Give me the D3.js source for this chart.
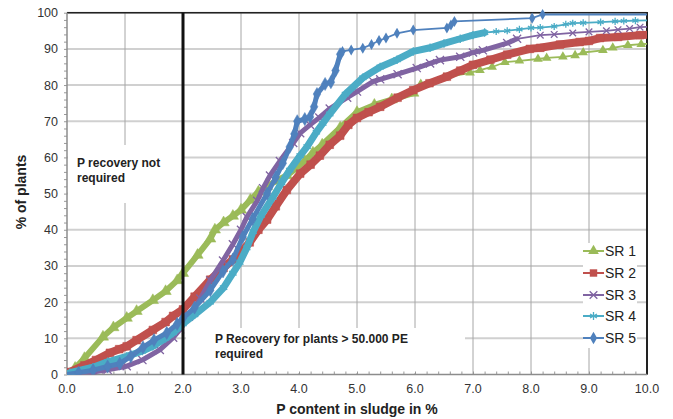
<!DOCTYPE html>
<html>
<head>
<meta charset="utf-8">
<script src="https://cdn.jsdelivr.net/npm/d3@7"></script>
<style>
body { margin: 0; background: #fff; font-family: "Liberation Sans", Arial, sans-serif; }
</style>
</head>
<body>
<div id="chart"></div>
<script>
// values: [P content %, % of plants]
var seriesNames = ["SR 1", "SR 2", "SR 3", "SR 4", "SR 5"];

var sr1Dense = [[0,0],[0.14,1.8],[0.3,4.5],[0.62,10.4],[0.8,13],[1.03,15.6],[1.2,17.5],[1.48,20.5],[1.7,23],[1.9,26],[2.0,28],[2.25,33],[2.47,37.5],[2.55,40],[2.7,42],[2.86,43.8],[3.0,45.5],[3.16,48.2],[3.3,50.5],[3.45,52],[3.6,53.5],[3.79,55],[3.95,57],[4.1,59],[4.24,61.3],[4.4,63.5],[4.71,68.2],[5.0,72.5],[5.3,74.5],[5.6,76],[5.97,77.8]];
var sr1Sparse = [[6.1,80.3],[6.5,82],[6.95,83.4],[7.12,84.1],[7.33,85],[7.55,86.3],[7.8,86.7],[8.12,87.2],[8.27,87.5],[8.55,87.8],[8.76,88.2],[8.9,89],[9.24,89.6],[9.41,90.3],[9.67,91],[9.9,91.3],[10.3,91.6]];

var sr2Dense = [[0,0],[0.05,0.7],[0.3,2.5],[0.5,4],[0.74,6],[0.9,7],[1.03,7.8],[1.2,9.5],[1.48,12.3],[1.7,14.5],[1.83,16.2],[2.0,18],[2.2,21.5],[2.47,26.2],[2.7,29.5],[2.86,31.8],[3.0,34],[3.15,36.5],[3.3,40],[3.45,42.8],[3.6,46.5],[3.79,51],[4.02,55.5],[4.2,58],[4.36,60.5],[4.53,63.5],[4.71,66],[4.85,69],[5.0,70.9],[5.2,72.5],[5.4,74],[5.7,76.5],[5.97,78.6],[6.25,80.5],[6.55,82.3],[6.78,84],[7.0,85.6],[7.3,87],[7.59,88.4],[7.98,90],[8.16,90.3],[8.5,91.2],[8.84,91.9],[9.0,92.2],[9.19,93],[9.5,93.3],[9.88,93.8],[10.3,94.1]];
var sr2Sparse = [];

var sr3Dense = [[0,0],[0.2,0.3],[0.45,0.7],[0.7,1.3],[1.03,2.3],[1.3,4],[1.6,6.8],[1.83,10.2],[1.95,12.5],[2.1,16],[2.3,21],[2.47,26],[2.69,31.5],[2.86,36],[3.0,40],[3.1,43.5],[3.28,48],[3.38,51.5],[3.5,55],[3.67,59],[3.9,64],[4.02,66.7],[4.19,69],[4.35,71],[4.53,73.5],[4.83,76.5],[5.0,78.2],[5.28,81],[5.4,81.6],[5.7,83],[6.03,84.7],[6.26,86],[6.43,86.9],[6.78,87.8],[7.0,89],[7.17,89.6],[7.59,91.6],[7.76,92.8]];
var sr3Sparse = [[8.16,93.8],[8.4,94],[8.72,94.4],[9.0,94.7],[9.3,95],[9.5,95.3],[9.7,95.6],[9.88,96],[10.3,96.3]];

var sr4Dense = [[0,0],[0.05,0.5],[0.45,2],[0.7,3.5],[1.03,5],[1.3,6.5],[1.48,7.8],[1.7,10],[1.83,11.5],[2.0,14],[2.2,16.5],[2.47,20],[2.7,24],[2.86,28],[2.98,31],[3.1,35],[3.21,39.5],[3.35,44],[3.55,49],[3.7,53],[3.84,56.5],[4.02,60.5],[4.14,63],[4.3,67],[4.41,69.4],[4.53,72],[4.8,77.5],[5.1,82],[5.4,85],[5.69,87],[5.97,89.3],[6.26,90.3],[6.5,91.5],[6.78,92.8],[7.0,93.8],[7.2,94.5]];
var sr4Sparse = [[7.4,94.8],[7.59,95],[7.8,95.4],[8.0,95.8],[8.16,95.9],[8.4,96.2],[8.6,96.8],[8.72,97.1],[8.9,97.2],[9.2,97.4],[9.45,97.6],[9.6,97.7],[9.8,97.8],[10.3,98]];

var sr5Dense = [[0,0],[0.2,0.5],[0.45,1.2],[0.7,2.2],[0.91,3],[1.1,5],[1.31,7.5],[1.5,9.5],[1.72,11.5],[1.9,14],[2.0,15.6],[2.2,18.5],[2.47,23.3],[2.69,28.5],[2.86,31.8],[3.03,38],[3.2,43],[3.45,50],[3.6,54.5],[3.72,58.4],[3.84,62.9],[3.92,66.5],[3.97,70],[4.1,70.6],[4.19,71.2],[4.26,74],[4.31,77.5],[4.45,80.3],[4.55,80.8],[4.63,84],[4.71,88.5]];
var sr5Sparse = [[4.75,89.3],[4.9,89.7],[5.1,90.2],[5.25,91.2],[5.38,92.3],[5.5,93],[5.69,94.3],[5.97,95.2],[6.55,95.8],[6.62,96.6],[6.68,97.6],[8.02,98.5],[8.2,99.5],[10.3,99.5]];

var xTicks = [0,1,2,3,4,5,6,7,8,9,10];
var yTicks = [0,10,20,30,40,50,60,70,80,90,100];

var colors = ["#9BBB59", "#C0504D", "#8064A2", "#4BACC6", "#4F81BD"];
var bandWidths = [6, 8, 5, 7, 5];
var symbols = [d3.symbolTriangle, d3.symbolSquare, d3.symbolX, d3.symbolAsterisk, d3.symbolDiamond];
var symbolSizes = [40, 45, 30, 35, 35];
var denseParts = [sr1Dense, sr2Dense, sr3Dense, sr4Dense, sr5Dense];
var sparseParts = [sr1Sparse, sr2Sparse, sr3Sparse, sr4Sparse, sr5Sparse];

var width = 673, height = 419;
var plotL = 67, plotR = 647, plotT = 12.7, plotB = 374.5;

var x = d3.scaleLinear().domain([0, 10]).range([plotL, plotR]);
var y = d3.scaleLinear().domain([0, 100]).range([plotB, plotT]);

var svg = d3.select("#chart").append("svg")
    .attr("width", width)
    .attr("height", height);

// grid
svg.append("g").selectAll("line").data(yTicks.slice(1)).enter().append("line")
    .attr("x1", plotL).attr("x2", plotR)
    .attr("y1", d => y(d)).attr("y2", d => y(d))
    .attr("stroke", "#d0d0d0").attr("stroke-width", 2);
svg.append("g").selectAll("line").data(xTicks.slice(1)).enter().append("line")
    .attr("x1", d => x(d)).attr("x2", d => x(d))
    .attr("y1", plotT).attr("y2", plotB)
    .attr("stroke", "#a6a6a6").attr("stroke-width", 1);

// white text boxes hiding the grid
svg.append("rect").attr("x", plotL + 1).attr("y", 145).attr("width", 115).attr("height", 58).attr("fill", "#fff");
svg.append("rect").attr("x", 186).attr("y", 328).attr("width", 279).attr("height", 45).attr("fill", "#fff");
svg.append("rect").attr("x", 583).attr("y", 243).attr("width", 54).attr("height", 105).attr("fill", "#fff");

// minor ticks
var xAxis = d3.axisBottom(x).tickValues(d3.range(0, 10.01, 0.2)).tickSize(-3).tickFormat("");
var gx = svg.append("g").attr("transform", `translate(0,${plotB})`).call(xAxis);
gx.selectAll("line").attr("stroke", "#999");
gx.select(".domain").remove();

var yAxis = d3.axisLeft(y).tickValues(d3.range(0, 100.1, 2)).tickSize(3).tickFormat("");
var gy = svg.append("g").attr("transform", `translate(${plotL},0)`).call(yAxis);
gy.selectAll("line").attr("stroke", "#999");
gy.select(".domain").remove();

// frame
svg.append("line").attr("x1", plotL).attr("x2", plotR + 1).attr("y1", plotT).attr("y2", plotT).attr("stroke", "#222").attr("stroke-width", 1.5);
svg.append("line").attr("x1", plotR).attr("x2", plotR).attr("y1", plotT).attr("y2", plotB).attr("stroke", "#222").attr("stroke-width", 2);
svg.append("line").attr("x1", plotL).attr("x2", plotL).attr("y1", plotT).attr("y2", plotB).attr("stroke", "#8c8c8c").attr("stroke-width", 1.5);
svg.append("line").attr("x1", plotL).attr("x2", plotR).attr("y1", plotB).attr("y2", plotB).attr("stroke", "#8c8c8c").attr("stroke-width", 1.5);

// tick labels
svg.append("g").selectAll("text").data(xTicks).enter().append("text")
    .attr("x", d => x(d)).attr("y", 393)
    .attr("text-anchor", "middle").attr("font-size", 12.5).attr("fill", "#333")
    .text(d => d.toFixed(1));
svg.append("g").selectAll("text").data(yTicks).enter().append("text")
    .attr("x", 58).attr("y", d => y(d) + 4.5)
    .attr("text-anchor", "end").attr("font-size", 12.5).attr("fill", "#333")
    .text(d => d);

// axis titles
svg.append("text").attr("x", 357).attr("y", 414).attr("text-anchor", "middle")
    .attr("font-size", 14).attr("font-weight", "bold").attr("fill", "#222")
    .text("P content in sludge in %");
svg.append("text").attr("transform", "translate(26,192) rotate(-90)").attr("text-anchor", "middle")
    .attr("font-size", 14).attr("font-weight", "bold").attr("fill", "#222")
    .text("% of plants");

// annotations
svg.append("text").attr("x", 77).attr("y", 167).attr("font-size", 12).attr("font-weight", "bold").attr("fill", "#222").text("P recovery not");
svg.append("text").attr("x", 77).attr("y", 182).attr("font-size", 12).attr("font-weight", "bold").attr("fill", "#222").text("required");
svg.append("text").attr("x", 215).attr("y", 343).attr("font-size", 12).attr("font-weight", "bold").attr("fill", "#222").text("P Recovery for plants > 50.000 PE");
svg.append("text").attr("x", 215).attr("y", 358).attr("font-size", 12).attr("font-weight", "bold").attr("fill", "#222").text("required");

// series
svg.append("clipPath").attr("id", "plot").append("rect")
    .attr("x", plotL).attr("y", plotT - 4).attr("width", plotR - plotL).attr("height", plotB - plotT + 4);
var plot = svg.append("g").attr("clip-path", "url(#plot)");
var line = d3.line().x(d => x(d[0])).y(d => y(d[1]));

seriesNames.forEach(function (name, i) {
    var dense = denseParts[i];
    var sparse = sparseParts[i];
    var all = dense.concat(sparse);
    var isStroke = i == 2 || i == 3;
    var g = plot.append("g");
    g.append("path").attr("d", line(all)).attr("fill", "none")
        .attr("stroke", colors[i]).attr("stroke-width", 1.8);
    g.append("path").attr("d", line(dense)).attr("fill", "none")
        .attr("stroke", colors[i]).attr("stroke-width", bandWidths[i])
        .attr("stroke-linejoin", "round").attr("stroke-linecap", "round");
    // markers along the dense band give it the ragged edge
    g.selectAll(".d").data(dense.slice(1)).enter().append("path")
        .attr("transform", d => `translate(${x(d[0])},${y(d[1])})`)
        .attr("d", d3.symbol().type(symbols[i]).size(symbolSizes[i] + 15))
        .attr("fill", isStroke ? "none" : colors[i])
        .attr("stroke", colors[i])
        .attr("stroke-width", isStroke ? 1.3 : 0.5);
    g.selectAll(".m").data(sparse).enter().append("path")
        .attr("transform", d => `translate(${x(d[0])},${y(d[1])})`)
        .attr("d", d3.symbol().type(symbols[i]).size(symbolSizes[i]))
        .attr("fill", isStroke ? "none" : colors[i])
        .attr("stroke", isStroke ? colors[i] : "none")
        .attr("stroke-width", 1.3);
});

// 2.0 % limit
svg.append("line").attr("x1", x(2)).attr("x2", x(2)).attr("y1", y(100)).attr("y2", y(0))
    .attr("stroke", "#111").attr("stroke-width", 3);

// legend
var legend = svg.append("g");
var legendY = [251, 273, 295, 316, 338];
seriesNames.forEach(function (name, i) {
    var ly = legendY[i];
    legend.append("line").attr("x1", 583).attr("x2", 604).attr("y1", ly).attr("y2", ly)
        .attr("stroke", colors[i]).attr("stroke-width", 2);
    var isStroke = i == 2 || i == 3;
    legend.append("path").attr("transform", `translate(593.5,${ly})`)
        .attr("d", d3.symbol().type(symbols[i]).size(symbolSizes[i] + 10))
        .attr("fill", isStroke ? "none" : colors[i])
        .attr("stroke", isStroke ? colors[i] : "none")
        .attr("stroke-width", 1.3);
    legend.append("text").attr("x", 605).attr("y", ly + 5)
        .attr("font-size", 14).attr("fill", "#222").text(name);
});
</script>
</body>
</html>
